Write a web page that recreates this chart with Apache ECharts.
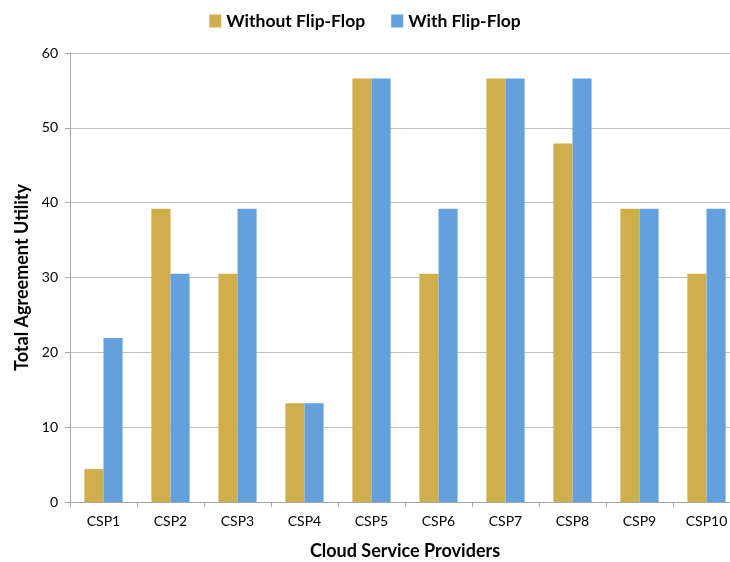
<!DOCTYPE html>
<html><head><meta charset="utf-8">
<script src="https://cdn.jsdelivr.net/npm/echarts@6/dist/echarts.min.js"></script>
<style>html,body{margin:0;padding:0;background:#fff}#c{width:730px;height:562px}</style>
</head><body><div id="c"></div>
<script>
const categories = ['CSP1','CSP2','CSP3','CSP4','CSP5','CSP6','CSP7','CSP8','CSP9','CSP10'];
const withoutFlipFlop = [4.4, 39.2, 30.5, 13.2, 56.6, 30.5, 56.6, 47.9, 39.2, 30.5];
const withFlipFlop = [21.9, 30.5, 39.2, 13.2, 56.6, 39.2, 56.6, 56.6, 39.2, 39.2];
const seriesNames = ['Without Flip-Flop', 'With Flip-Flop'];
const yTicks = {min: 0, max: 60, interval: 10};

const font = 'Lato, "Open Sans", sans-serif';
const chart = echarts.init(document.getElementById('c'));
chart.setOption({
  animation: false,
  textStyle: {fontFamily: font},
  legend: {
    top: 7, left: 'center', itemWidth: 12, itemHeight: 13, itemGap: 26,
    icon: 'rect',
    textStyle: {fontSize: 17.5, fontWeight: 'bold', color: '#000', fontFamily: font}
  },
  grid: {left: 70, right: -10, top: 53, bottom: 60, containLabel: false, outerBoundsMode: 'none'},
  xAxis: {
    type: 'category', data: categories,
    name: 'Cloud Service Providers', nameLocation: 'middle', nameGap: 40,
    nameTextStyle: {fontSize: 18, fontWeight: 'bold', color: '#000', fontFamily: font},
    axisLine: {lineStyle: {color: '#a6a6a6'}},
    axisTick: {show: true, length: 5, lineStyle: {color: '#a6a6a6'}},
    axisLabel: {fontSize: 14, color: '#000', margin: 12}
  },
  yAxis: {
    type: 'value', min: yTicks.min, max: yTicks.max, interval: yTicks.interval,
    name: 'Total Agreement Utility', nameLocation: 'middle', nameGap: 39,
    nameTextStyle: {fontSize: 18, fontWeight: 'bold', color: '#000', fontFamily: font},
    axisLine: {show: true, lineStyle: {color: '#a6a6a6'}},
    axisTick: {show: true, length: 5, lineStyle: {color: '#a6a6a6'}},
    axisLabel: {fontSize: 14, color: '#000', margin: 12},
    splitLine: {lineStyle: {color: '#bfbfbf'}}
  },
  series: [
    {name: seriesNames[0], type: 'bar', data: withoutFlipFlop, barGap: '0%', barCategoryGap: '43%', itemStyle: {color: '#CFAE4C'}},
    {name: seriesNames[1], type: 'bar', data: withFlipFlop, barGap: '0%', barCategoryGap: '43%', itemStyle: {color: '#64A1DC'}}
  ]
});
</script></body></html>
